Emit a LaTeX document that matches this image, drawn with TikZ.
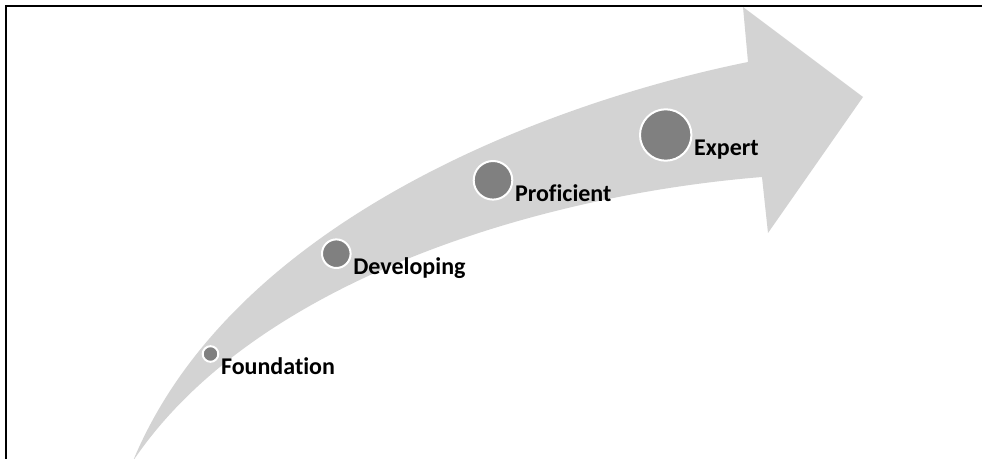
\documentclass[tikz,border=0pt]{standalone}
\usepackage{fontspec}
\setmainfont{Carlito}[Ligatures=NoCommon]
\usetikzlibrary{positioning, calc}

\definecolor{arrowgray}{RGB}{211,211,211}
\definecolor{dotgray}{RGB}{128,128,128}

\tikzset{
  stage/.style={circle, fill=dotgray, draw=white, line width=1.5pt, inner sep=0pt},
  stagelabel/.style={anchor=base west, inner sep=0pt, font=\bfseries\fontsize{18}{22}\selectfont}
}

\begin{document}
\begin{tikzpicture}[x=0.75pt, y=-0.75pt]

\useasboundingbox (0,0) rectangle (982,459);
\clip (0,0) rectangle (982,459);

% Frame
\draw[line width=1.5pt] (6,459) -- (6,6) -- (982,6);

% Curved arrow
\fill[arrowgray] (133,461) .. controls (235,215) and (560,100) .. (748,62)
  -- (743,7) -- (863,97) -- (768,233) -- (762,177)
  .. controls (540,195) and (255,280) .. (133,461) -- cycle;

% Stages
\foreach \nm/\px/\py/\r/\txt in {Found/210.5/354/7.8/Foundation,
                                  Devel/336.3/253.7/14.3/Developing,
                                  Profi/493/180.3/19.3/Proficient,
                                  Exper/665.7/135/25.7/Expert} {
  \node[stage, minimum size=1.5*\r pt] (c\nm) at (\px,\py) {};
  \node[stagelabel] (t\nm) at ($(c\nm.east)+(1.5,21)$) {\txt};
}

\end{tikzpicture}
\end{document}
